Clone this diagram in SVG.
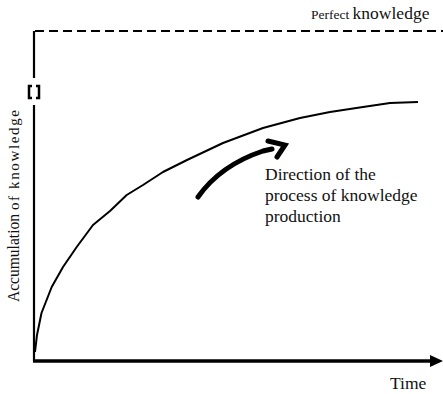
<svg xmlns="http://www.w3.org/2000/svg" width="443" height="394" viewBox="0 0 443 394">
<style>
.t{font-family:"Liberation Serif","Times New Roman",serif;fill:#111}
.ax{stroke:#000;fill:none}
</style>
<defs>
<marker id="ah" markerWidth="13" markerHeight="12" refX="0" refY="6" orient="auto" markerUnits="userSpaceOnUse">
<path d="M0,0 L13,6 L0,12 Z" fill="#000"/>
</marker>
</defs>
<rect width="443" height="394" fill="#fff"/>
<g id="axes">
<path class="ax" d="M34,78 L34,31" stroke-width="2.2"/>
<path class="ax" d="M34,105 L34,361" stroke-width="2.2"/>
<path class="ax" d="M35,31 L443,31" stroke-width="2" stroke-dasharray="9,5"/>
<path class="ax" d="M33,361 L430,361" stroke-width="3.5" marker-end="url(#ah)"/>
<g id="break" stroke="#000" stroke-width="2.5" fill="none">
<path d="M32,86 L29,86 L29,98 L32,98"/>
<path d="M36,86 L39,86 L39,98 L36,98"/>
</g>
</g>
<g id="curve">
<path class="ax" stroke-width="2" stroke-linejoin="round" d="M35,352 L37,335 L41.5,313 L51.7,287 L63,267 L76.7,247 L93,225 L110,211 L126.7,195 L143,185 L163,172 L187,160 L223,143 L263,128 L300,118 L330,112 L363,107 L390,103 L418,102"/>
</g>
<g id="direction-arrow">
<path d="M198,197 C210,180 230,162 263,151 L272,149" stroke="#000" stroke-width="5" fill="none" stroke-linecap="round"/>
<path d="M268,141 L285,145 L277,157" stroke="#000" stroke-width="5" fill="none" stroke-linecap="round" stroke-linejoin="miter"/>
</g>
<g id="labels">
<text class="t" x="311" y="19" font-size="13.5">Perfect <tspan font-size="17.5">knowledge</tspan></text>
<text class="t" font-size="17.5"><tspan x="265" y="180">Direction of the</tspan><tspan x="265" y="201">process of knowledge</tspan><tspan x="265" y="222">production</tspan></text>
<text class="t" x="390" y="389" font-size="17.5">Time</text>
<g transform="translate(19,302) rotate(-90)">
<text class="t" x="0" y="0" font-size="16" textLength="88" lengthAdjust="spacingAndGlyphs">Accumulation</text>
<text class="t" x="92" y="0" font-size="15" textLength="100" lengthAdjust="spacing">of knowledge</text>
</g>
</g>
</svg>
